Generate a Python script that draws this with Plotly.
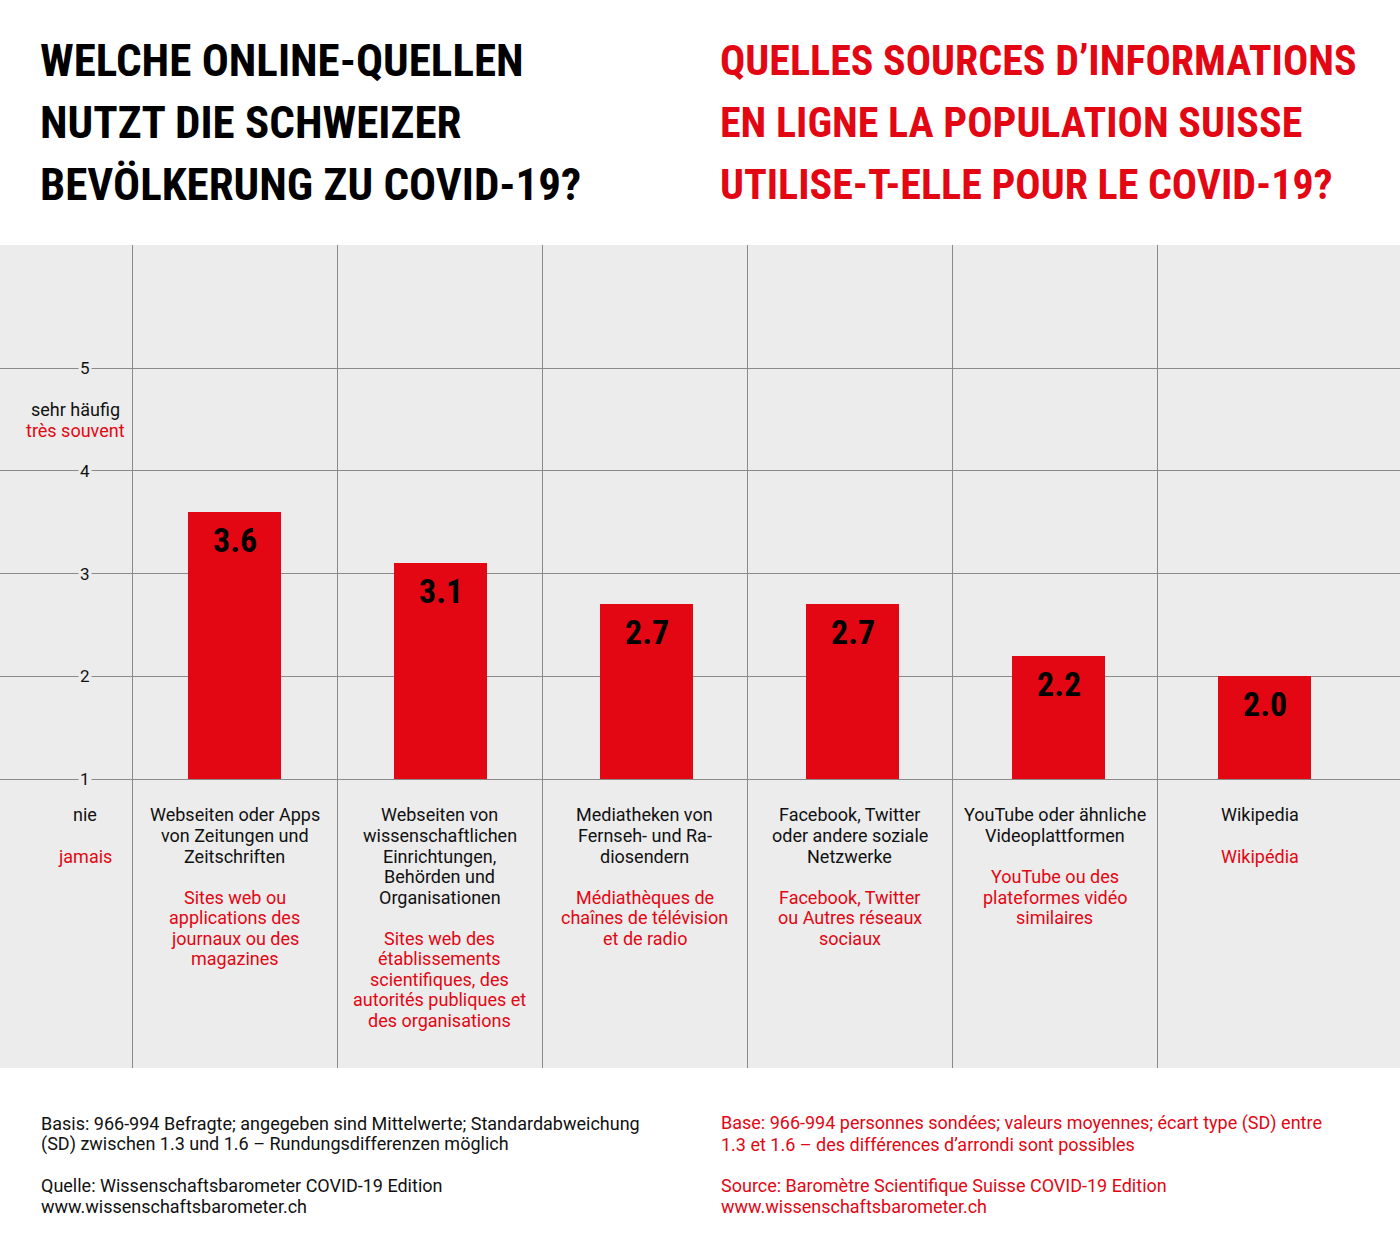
import plotly.graph_objects as go

# ---------------- data ----------------
values = [3.6, 3.1, 2.7, 2.7, 2.2, 2.0]
scale_min = 1
labels_de = [
    ["Webseiten oder Apps", "von Zeitungen und", "Zeitschriften"],
    ["Webseiten von", "wissenschaftlichen", "Einrichtungen,", "Behörden und", "Organisationen"],
    ["Mediatheken von", "Fernseh- und Ra-", "diosendern"],
    ["Facebook, Twitter", "oder andere soziale", "Netzwerke"],
    ["YouTube oder ähnliche", "Videoplattformen"],
    ["Wikipedia"],
]
labels_fr = [
    ["Sites web ou", "applications des", "journaux ou des", "magazines"],
    ["Sites web des", "établissements", "scientifiques, des", "autorités publiques et", "des organisations"],
    ["Médiathèques de", "chaînes de télévision", "et de radio"],
    ["Facebook, Twitter", "ou Autres réseaux", "sociaux"],
    ["YouTube ou des", "plateformes vidéo", "similaires"],
    ["Wikipédia"],
]
y_ticks = [1, 2, 3, 4, 5]
title_de = ["WELCHE ONLINE-QUELLEN", "NUTZT DIE SCHWEIZER", "BEVÖLKERUNG ZU COVID-19?"]
title_fr = ["QUELLES SOURCES D’INFORMATIONS", "EN LIGNE LA POPULATION SUISSE", "UTILISE-T-ELLE POUR LE COVID-19?"]
scale_top_de, scale_top_fr = "sehr häufig", "très souvent"
scale_bot_de, scale_bot_fr = "nie", "jamais"
foot_de = ["Basis: 966-994 Befragte; angegeben sind Mittelwerte; Standardabweichung",
           "(SD) zwischen 1.3 und 1.6 – Rundungsdifferenzen möglich",
           None,
           "Quelle: Wissenschaftsbarometer COVID-19 Edition",
           "www.wissenschaftsbarometer.ch"]
foot_fr = ["Base: 966-994 personnes sondées; valeurs moyennes; écart type (SD) entre",
           "1.3 et 1.6 – des différences d’arrondi sont possibles",
           None,
           "Source: Baromètre Scientifique Suisse COVID-19 Edition",
           "www.wissenschaftsbarometer.ch"]

# ---------------- style ----------------
W, H = 1400, 1245
TOP, BOT = 245, 1068
RED = "#e30613"
BLACK = "#111111"
PANEL = "#ececec"
GRID = "#8a8a8a"
BODY = "Roboto, 'Noto Sans', sans-serif"
COND = "'Roboto Condensed', 'Liberation Sans Narrow', 'DejaVu Sans Condensed', 'Arial Narrow', sans-serif"
FS = 18

def py(p):  # pixel y -> paper y
    return (BOT - p) / (BOT - TOP)

def px(p):
    return p / W

# x axis geometry (pixels)
bar_step = 206.0      # px between bar centres
c0 = 234.5            # px of first bar centre
col_w = 205.0         # px between column separators
sep0 = 132.0          # px of first separator

def xd(p):  # pixel x -> data x
    return (p - c0) / bar_step

x_idx = list(range(len(values)))
fig = go.Figure()
fig.add_trace(go.Bar(x=x_idx, y=[v - scale_min for v in values], base=scale_min,
                     width=93 / bar_step,
                     marker=dict(color=RED, line=dict(width=0)), hoverinfo="skip"))

ann = []
# bar value labels
for i, v in zip(x_idx, values):
    ann.append(dict(x=i, y=v, xref="x", yref="y", text=f"{v:.1f}", showarrow=False,
                    xanchor="center", yanchor="middle", yshift=-28,
                    font=dict(family=COND, size=34, color="#000000", weight="bold")))

def label(x, y, text, color, xref="paper", xanchor="center", size=FS):
    return dict(x=x, y=y, xref=xref, yref="paper", text=text, showarrow=False,
                xanchor=xanchor, yanchor="middle",
                font=dict(family=BODY, size=size, color=color))

# category labels (centred in their column)
LS = 20.5
for i in x_idx:
    xc = px(sep0 + col_w * (i + 0.5))
    y0 = 815
    for k, line in enumerate(labels_de[i]):
        ann.append(label(xc, py(y0 + k * LS), line, BLACK))
    y1 = y0 + (len(labels_de[i]) + 1) * LS
    for k, line in enumerate(labels_fr[i]):
        ann.append(label(xc, py(y1 + k * LS), line, RED))

# y tick labels with panel background
for t in y_ticks:
    ann.append(dict(x=px(85), y=t, xref="paper", yref="y", text=str(t), showarrow=False,
                    xanchor="center", yanchor="middle", bgcolor=PANEL, borderpad=1,
                    font=dict(family=BODY, size=17, color=BLACK)))

# scale descriptions
ann.append(label(px(75), py(409), scale_top_de, BLACK))
ann.append(label(px(75), py(430), scale_top_fr, RED))
ann.append(label(px(85), py(815), scale_bot_de, BLACK))
ann.append(label(px(85), py(856), scale_bot_fr, RED))

# titles
for k, (a, b) in enumerate(zip(title_de, title_fr)):
    yc = 61 + k * 61.5
    ann.append(dict(x=px(38), y=py(yc), xref="paper", yref="paper", text=a, showarrow=False,
                    xanchor="left", yanchor="middle",
                    font=dict(family=COND, size=45, color="#000000", weight="bold")))
    ann.append(dict(x=px(718), y=py(yc), xref="paper", yref="paper", text=b, showarrow=False,
                    xanchor="left", yanchor="middle",
                    font=dict(family=COND, size=42, color=RED, weight="bold")))

# footer
foot_y = [1123, 1144, None, 1185, 1206]
for a, b, yy in zip(foot_de, foot_fr, foot_y):
    if a is None:
        continue
    ann.append(label(px(39), py(yy), a, BLACK, xanchor="left"))
    ann.append(label(px(719), py(yy), b, RED, xanchor="left"))

unit = 102.75
y_lo = 1 - (BOT - 779) / unit
y_hi = 1 + (779 - TOP) / unit

fig.update_layout(
    width=W, height=H,
    margin=dict(l=0, r=0, t=TOP, b=H - BOT, pad=0),
    paper_bgcolor="white", plot_bgcolor=PANEL,
    showlegend=False,
    annotations=ann,
    xaxis=dict(range=[xd(0), xd(W)], tickvals=[xd(sep0 + col_w * i) for i in x_idx],
               showticklabels=False,
               showgrid=True, gridcolor=GRID, gridwidth=1, zeroline=False, ticks="",
               fixedrange=True),
    yaxis=dict(range=[y_lo, y_hi], tickvals=y_ticks, showticklabels=False,
               showgrid=True, gridcolor=GRID, gridwidth=1, zeroline=False, ticks="",
               fixedrange=True),
    bargap=0,
)

fig.write_html("out.html")
